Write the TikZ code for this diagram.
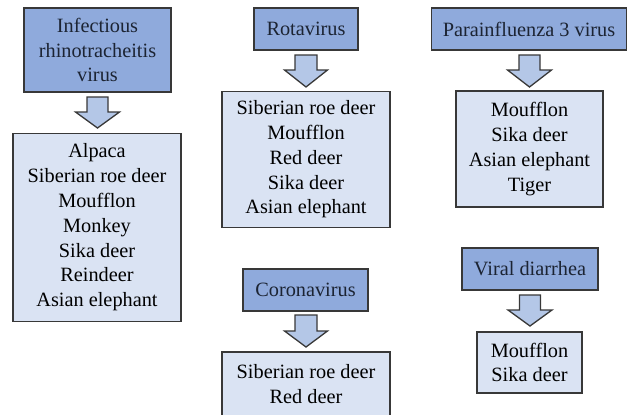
\documentclass[tikz,border=0pt]{standalone}
\usepackage{fontspec}
\setmainfont{Liberation Serif}
\newfontfamily\tnr{Liberation Serif}
\definecolor{hdrfill}{HTML}{8FAADC}
\definecolor{listfill}{HTML}{DAE3F3}
\definecolor{arrfill}{HTML}{B4C7E7}
\definecolor{edge}{HTML}{383838}
\definecolor{hdrtext}{HTML}{1C2433}
\tikzset{
  box/.style={draw=edge, line width=1.3pt, align=center, inner sep=0pt,
    font=\tnr\fontsize{20.3}{24.8}\selectfont},
  hdr/.style={box, fill=hdrfill, text=hdrtext},
  lst/.style={box, fill=listfill, text=black},
  barrow/.style={draw=edge, line width=1.3pt, fill=arrfill, line join=miter}
}
% #1 x centre, #2 top y, #3 head start y, #4 tip y, #5 shaft half width, #6 head half width
\newcommand{\blockarrow}[6]{%
  \draw[barrow] (#1-#5,#2) -- (#1+#5,#2) -- (#1+#5,#3) -- (#1+#6,#3) -- (#1,#4)
    -- (#1-#6,#3) -- (#1-#5,#3) -- cycle;}
\begin{document}
\begin{tikzpicture}[x=1pt,y=-1pt]
\useasboundingbox (0,0) rectangle (630,415);

% column 1
\node[hdr, minimum width=147pt, minimum height=84pt] (h1) at (97.5,50)
  {Infectious\\rhinotracheitis\\virus};
\node[lst, minimum width=168pt, minimum height=188pt] (l1) at (97,227.5)
  {Alpaca\\Siberian roe deer\\Moufflon\\Monkey\\Sika deer\\Reindeer\\Asian elephant};
\blockarrow{97.5}{97}{112}{128}{10.5}{22}

% column 2 top
\node[hdr, minimum width=104pt, minimum height=42pt] (h2) at (306,29) {Rotavirus};
\node[lst, minimum width=168pt, minimum height=136pt] (l2) at (306,159.5)
  {Siberian roe deer\\Moufflon\\Red deer\\Sika deer\\Asian elephant};
\blockarrow{306}{55}{70}{87}{11}{21.5}

% column 3 top
\node[hdr, minimum width=195pt, minimum height=42pt] (h3) at (529,29) {Parainfluenza 3 virus};
\node[lst, minimum width=147pt, minimum height=116pt] (l3) at (529.5,149)
  {Moufflon\\Sika deer\\Asian elephant\\Tiger};
\blockarrow{529.5}{55}{70}{87}{10.5}{22}

% column 2 bottom
\node[hdr, minimum width=125pt, minimum height=42pt] (h4) at (305.5,290) {Coronavirus};
\node[lst, minimum width=168pt, minimum height=64pt] (l4) at (306,384)
  {Siberian roe deer\\Red deer};
\blockarrow{306}{315}{331}{347}{11}{21.5}

% column 3 bottom
\node[hdr, minimum width=136pt, minimum height=42pt] (h5) at (530,269) {Viral diarrhea};
\node[lst, minimum width=105pt, minimum height=61pt] (l5) at (529.5,362.5)
  {Moufflon\\Sika deer};
\blockarrow{530}{295}{310}{326}{10.5}{22}
\end{tikzpicture}
\end{document}
